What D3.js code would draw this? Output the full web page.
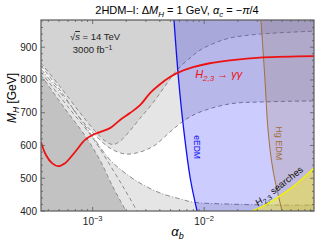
<!DOCTYPE html>
<html>
<head>
<meta charset="utf-8">
<script src="https://cdn.jsdelivr.net/npm/d3@7"></script>
<style>
body { margin: 0; background: #fff; }
svg text { font-family: "Liberation Sans", Arial, sans-serif; }
</style>
</head>
<body>
<div class="chart"></div>
<script>
// curves as [alpha_b, M_H (GeV)]
const redCurve = [[3.44e-4,610],[3.81e-4,571],[4.32e-4,546],[4.89e-4,537],[5.65e-4,546],[6.94e-4,580],
  [8.53e-4,617],[1.0e-3,632],[1.16e-3,641],[1.43e-3,653],[1.76e-3,678],[2.16e-3,699],[2.66e-3,723],
  [3.27e-3,760],[4.02e-3,787],[4.93e-3,809],[5.70e-3,821],[7.94e-3,839],[1.12e-2,851],[1.70e-2,860],
  [3.37e-2,869],[9.66e-2,873]];

// upper gray contour (region above it is shaded)
const upperContour = [[3.44e-4,852],[5.09e-4,780],[7.69e-4,700],[1.05e-3,644],[1.29e-3,614],[1.52e-3,603],
  [1.76e-3,613],[2.16e-3,645],[2.66e-3,683],[3.47e-3,730],[4.45e-3,781],[5.70e-3,830],[7.46e-3,867],
  [9.17e-3,891],[1.25e-2,913],[1.70e-2,928],[3.16e-2,940],[9.66e-2,949]];

// white (allowed) band: dashed top, dot-dashed bottom
const whiteTop = [[3.44e-4,843],[5.09e-4,769],[7.69e-4,684],[1.05e-3,632],[1.43e-3,592],[1.95e-3,574],
  [2.66e-3,580],[3.62e-3,601],[4.93e-3,641],[6.73e-3,678],[9.17e-3,702],[1.70e-2,727],[3.37e-2,733],[9.66e-2,736]];
const whiteBottom = [[3.44e-4,833],[6.26e-4,724],[1.05e-3,617],[1.43e-3,556],[1.95e-3,516],[2.66e-3,485],
  [4.02e-3,455],[6.07e-3,437],[7.94e-3,427],[1.70e-2,421],[4.79e-2,418],[9.66e-2,418]];

// dark lower-left region and its neighbouring dashed contour
const darkEdge = [[3.44e-4,815],[5.65e-4,712],[8.53e-4,630],[1.16e-3,556],[1.49e-3,479],[1.99e-3,400]];
const darkEdge2 = [[3.44e-4,824],[6.0e-4,718],[9.86e-4,626],[1.43e-3,540],[1.95e-3,464],[2.50e-3,400]];

// EDM bounds and direct search bound
const eEdm = [[5.36e-3,983],[5.90e-3,800],[6.60e-3,640],[7.50e-3,500],[8.63e-3,400]];
const hgEdm = [[3.23e-2,983],[3.51e-2,800],[3.74e-2,647],[4.14e-2,525],[4.99e-2,400]];
const h23Search = [[2.69e-2,400],[3.51e-2,418],[4.79e-2,446],[6.53e-2,479],[9.66e-2,531]];

const yTicks = [400, 500, 600, 700, 800, 900];
const xTicks = [1e-3, 1e-2];

const W = 332, H = 247;
const svg = d3.select('.chart').append('svg')
  .attr('width', W).attr('height', H);

const x = d3.scaleLog().domain([3.44e-4, 9.66e-2]).range([41, 314]);
const y = d3.scaleLinear().domain([400, 983]).range([211, 20]);
const [x0, x1] = x.domain();
const [y0, y1] = y.domain();

const line = d3.line().x(d => x(d[0])).y(d => y(d[1])).curve(d3.curveCatmullRom);
function region(pts, corners) {
  return line(pts) + corners.map(c => 'L' + x(c[0]) + ',' + y(c[1])).join('') + 'Z';
}

svg.append('clipPath').attr('id', 'clip').append('rect')
  .attr('x', x(x0)).attr('y', y(y1))
  .attr('width', x(x1) - x(x0)).attr('height', y(y0) - y(y1));

const plot = svg.append('g').attr('clip-path', 'url(#clip)');

// light gray background of the frame
plot.append('rect')
  .attr('x', x(x0)).attr('y', y(y1))
  .attr('width', x(x1) - x(x0)).attr('height', y(y0) - y(y1))
  .attr('fill', '#e5e5e5');

// white band
plot.append('path')
  .attr('d', line(whiteTop) + 'L' + line(whiteBottom.slice().reverse()).slice(1) + 'Z')
  .attr('fill', '#fff');

// upper gray
plot.append('path')
  .attr('d', region(upperContour, [[x1, y1], [x0, y1]]))
  .attr('fill', '#d3d3d3');

// dark lower-left
plot.append('path')
  .attr('d', region(darkEdge, [[x0, y0]]))
  .attr('fill', '#c2c2c2');

// gray contour lines
const dash = '4,3';
[upperContour, whiteTop, darkEdge, darkEdge2].forEach(c => {
  plot.append('path').attr('d', line(c))
    .attr('fill', 'none').attr('stroke', '#8c8c8c')
    .attr('stroke-width', 1).attr('stroke-dasharray', dash);
});
plot.append('path').attr('d', line(whiteBottom))
  .attr('fill', 'none').attr('stroke', '#8c8c8c')
  .attr('stroke-width', 1).attr('stroke-dasharray', '5,2,1,2');

// eEDM excluded
plot.append('path')
  .attr('d', region(eEdm, [[x1, y0], [x1, y1]]))
  .attr('fill', 'rgb(0,0,255)').attr('fill-opacity', 0.2);
// Hg EDM excluded
plot.append('path')
  .attr('d', region(hgEdm, [[x1, y0], [x1, y1]]))
  .attr('fill', 'rgb(150,100,50)').attr('fill-opacity', 0.17);
// H2,3 searches
plot.append('path')
  .attr('d', region(h23Search, [[x1, y0]]))
  .attr('fill', 'rgb(255,245,0)').attr('fill-opacity', 0.4);

plot.append('path').attr('d', line(hgEdm))
  .attr('fill', 'none').attr('stroke', '#a2703c').attr('stroke-width', 1);
plot.append('path').attr('d', line(h23Search))
  .attr('fill', 'none').attr('stroke', '#f2f200').attr('stroke-width', 1.5);
plot.append('path').attr('d', line(eEdm))
  .attr('fill', 'none').attr('stroke', '#1010f0').attr('stroke-width', 1.3);
plot.append('path').attr('d', line(redCurve))
  .attr('fill', 'none').attr('stroke', '#ee1111').attr('stroke-width', 1.8);

// frame
svg.append('rect')
  .attr('x', x(x0)).attr('y', y(y1))
  .attr('width', x(x1) - x(x0)).attr('height', y(y0) - y(y1))
  .attr('fill', 'none').attr('stroke', '#5a5a5a').attr('stroke-width', 1.2);

// ticks inside the frame
const ax = svg.append('g').attr('stroke', '#5a5a5a').attr('stroke-width', 0.8);
d3.range(400, 981, 20).forEach(v => {
  const len = v % 100 === 0 ? 4 : 2;
  ax.append('line').attr('x1', x(x0)).attr('x2', x(x0) + len).attr('y1', y(v)).attr('y2', y(v));
  ax.append('line').attr('x1', x(x1)).attr('x2', x(x1) - len).attr('y1', y(v)).attr('y2', y(v));
});
[1e-4, 1e-3, 1e-2].forEach(dec => {
  d3.range(1, 10).forEach(k => {
    const v = dec * k;
    if (v < x0 || v > x1) return;
    const len = k === 1 ? 4 : 2;
    ax.append('line').attr('x1', x(v)).attr('x2', x(v)).attr('y1', y(y0)).attr('y2', y(y0) - len);
    ax.append('line').attr('x1', x(v)).attr('x2', x(v)).attr('y1', y(y1)).attr('y2', y(y1) + len);
  });
});

// tick labels
svg.selectAll('text.ylab').data(yTicks).enter().append('text')
  .attr('class', 'ylab')
  .attr('x', x(x0) - 4).attr('y', d => y(d)).attr('dy', '0.35em')
  .attr('text-anchor', 'end').attr('font-size', 10).attr('fill', '#222')
  .text(d => d);
const xl = svg.selectAll('text.xlab').data(xTicks).enter().append('text')
  .attr('class', 'xlab')
  .attr('x', d => x(d)).attr('y', y(y0) + 14)
  .attr('text-anchor', 'middle').attr('font-size', 10).attr('fill', '#222');
xl.append('tspan').text('10');
xl.append('tspan').attr('dy', -4).attr('font-size', 7.5).text(d => '\u2212' + Math.round(-Math.log10(d)));

// axis titles
const xt = svg.append('text').attr('x', (x(x0) + x(x1)) / 2).attr('y', 236)
  .attr('text-anchor', 'middle').attr('font-size', 13);
xt.append('tspan').attr('font-style', 'italic').text('\u03b1');
xt.append('tspan').attr('font-size', 9).attr('dy', 3).attr('font-style', 'italic').text('b');

const yt = svg.append('text').attr('transform', 'translate(16,' + y(745) + ') rotate(-90)')
  .attr('text-anchor', 'middle').attr('font-size', 12);
yt.append('tspan').attr('font-style', 'italic').text('M');
yt.append('tspan').attr('font-size', 8.5).attr('dy', 3).attr('font-style', 'italic').text('H');
yt.append('tspan').attr('dy', -3).text(' [GeV]');

// title
const tt = svg.append('text').attr('x', 177).attr('y', 14)
  .attr('text-anchor', 'middle').attr('font-size', 11);
tt.append('tspan').text('2HDM\u2013I: \u0394');
tt.append('tspan').attr('font-style', 'italic').text('M');
tt.append('tspan').attr('font-size', 8).attr('dy', 2.5).attr('font-style', 'italic').text('H');
tt.append('tspan').attr('dy', -2.5).text(' = 1 GeV, ');
tt.append('tspan').attr('font-style', 'italic').text('\u03b1');
tt.append('tspan').attr('font-size', 8).attr('dy', 2.5).attr('font-style', 'italic').text('c');
tt.append('tspan').attr('dy', -2.5).text(' = \u2212');
tt.append('tspan').attr('font-style', 'italic').text('\u03c0');
tt.append('tspan').text('/4');

// energy and luminosity note
const en = svg.append('text').attr('x', x(1.05e-3)).attr('y', y(922))
  .attr('text-anchor', 'middle').attr('font-size', 9.5).attr('fill', '#222');
en.append('tspan').text('\u221a');
en.append('tspan').attr('font-style', 'italic').attr('text-decoration', 'overline').text('s');
en.append('tspan').text(' = 14 TeV');
const lu = svg.append('text').attr('x', x(1.0e-3)).attr('y', y(882))
  .attr('text-anchor', 'middle').attr('font-size', 9.5).attr('fill', '#222');
lu.append('tspan').text('3000 fb');
lu.append('tspan').attr('dy', -3.5).attr('font-size', 7).text('\u22121');

// curve labels
const rl = svg.append('text').attr('x', x(8.3e-3)).attr('y', y(806))
  .attr('font-size', 11).attr('fill', '#ee1111').attr('font-style', 'italic');
rl.append('tspan').text('H');
rl.append('tspan').attr('font-size', 8).attr('dy', 3).text('2,3');
rl.append('tspan').attr('dy', -3).attr('font-style', 'normal').text(' \u2192 ');
rl.append('tspan').text('\u03b3\u03b3');

svg.append('text')
  .attr('transform', 'translate(' + x(8.7e-3) + ',' + y(595) + ') rotate(90)')
  .attr('text-anchor', 'middle').attr('dy', '0.35em')
  .attr('font-size', 8.5).attr('fill', '#1010f0').text('eEDM');
svg.append('text')
  .attr('transform', 'translate(' + x(4.69e-2) + ',' + y(607) + ') rotate(90)')
  .attr('text-anchor', 'middle').attr('dy', '0.35em')
  .attr('font-size', 9).attr('fill', '#a2703c').text('Hg EDM');

const sl = svg.append('text')
  .attr('transform', 'translate(' + x(4.69e-2) + ',' + y(476) + ') rotate(-38)')
  .attr('text-anchor', 'middle').attr('dy', '0.35em')
  .attr('font-size', 9.5).attr('fill', '#111');
sl.append('tspan').attr('font-style', 'italic').text('H');
sl.append('tspan').attr('font-size', 7).attr('dy', 2.5).text('2,3');
sl.append('tspan').attr('dy', -2.5).text(' searches');
</script>
</body>
</html>
